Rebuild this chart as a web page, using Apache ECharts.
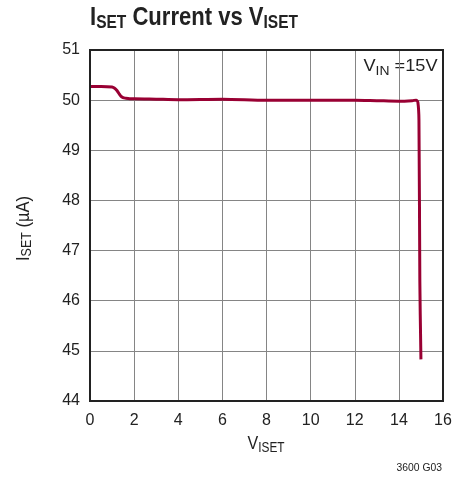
<!DOCTYPE html>
<html>
<head>
<meta charset="utf-8">
<script src="https://cdn.jsdelivr.net/npm/echarts@6/dist/echarts.min.js"></script>
<style>
html,body{margin:0;padding:0;background:#fff;}
#c{width:469px;height:483px;}
</style>
</head>
<body>
<div id="c"></div>
<script>
var xValues = [0, 0.5, 1.0, 1.1, 1.2, 1.3, 1.4, 1.5, 1.6, 1.8, 2, 3, 4, 6, 8, 10, 12, 13, 14, 14.6, 14.78, 14.86, 14.91, 14.95, 15.0];
var yValues = [50.27, 50.27, 50.26, 50.24, 50.2, 50.14, 50.08, 50.05, 50.04, 50.03, 50.03, 50.02, 50.01, 50.02, 50.0, 50.0, 50.0, 49.99, 49.98, 49.99, 50.0, 49.96, 49.6, 46.4, 44.83];
var xTicks = [0, 2, 4, 6, 8, 10, 12, 14, 16];
var yTicks = [44, 45, 46, 47, 48, 49, 50, 51];

var FN = '"Liberation Sans", Arial, sans-serif';
var TXT = '#222';
var chart = echarts.init(document.getElementById('c'));
var data = xValues.map(function (x, i) { return [x, yValues[i]]; });

var mctx = document.createElement('canvas').getContext('2d');
function measure(t, fs, bold) {
  mctx.font = (bold ? 'bold ' : '') + fs + 'px ' + FN;
  return mctx.measureText(t).width;
}
// Build a line of text fragments (with subscripts) fitted between a start and a target length.
function textLine(frags, x, y, length, rotation) {
  var widths = frags.map(function (f) { return measure(f.t, f.fs, f.bold); });
  var total = widths.reduce(function (a, b) { return a + b; }, 0);
  var cur = 0;
  var children = frags.map(function (f, i) {
    var el = {
      type: 'text', x: cur, y: (f.dy || 0) - 0.35 * f.fs,
      style: { text: f.t, fontFamily: FN, fontSize: f.fs, fontWeight: f.bold ? 'bold' : 'normal',
        fill: TXT, align: 'left', verticalAlign: 'middle' }
    };
    cur += widths[i];
    return el;
  });
  return { type: 'group', x: x, y: y, rotation: rotation || 0, scaleX: length / total, children: children, z: 20, silent: true };
}

chart.setOption({
  animation: false,
  grid: { left: 90, top: 50, width: 353, height: 351, containLabel: false },
  xAxis: {
    type: 'value', min: xTicks[0], max: xTicks[xTicks.length - 1], interval: 2,
    axisLine: { show: false },
    axisTick: { show: false },
    axisLabel: { color: TXT, fontSize: 16, fontFamily: FN, margin: 12 },
    splitLine: { show: true, lineStyle: { color: '#858585', width: 1 } }
  },
  yAxis: {
    type: 'value', min: yTicks[0], max: yTicks[yTicks.length - 1], interval: 1,
    axisLine: { show: false },
    axisTick: { show: false },
    axisLabel: { color: TXT, fontSize: 16, fontFamily: FN, margin: 10 },
    splitLine: { show: true, lineStyle: { color: '#858585', width: 1 } }
  },
  series: [{
    type: 'line',
    data: data,
    showSymbol: false,
    smooth: 0.3,
    lineStyle: { color: '#990033', width: 3 },
    z: 5
  }],
  graphic: [
    { type: 'rect', shape: { x: 90, y: 50, width: 353, height: 351 },
      style: { fill: 'none', stroke: '#222', lineWidth: 2 }, z: 10, silent: true },
    textLine([
      { t: 'I', fs: 25, bold: true },
      { t: 'SET', fs: 17.6, bold: true, dy: 3.3 },
      { t: ' Current vs V', fs: 25, bold: true },
      { t: 'ISET', fs: 17.6, bold: true, dy: 3.3 }
    ], 90, 26.5, 208),
    textLine([
      { t: 'I', fs: 18.5 },
      { t: 'SET', fs: 14, dy: 2.5 },
      { t: ' (µA)', fs: 18.5 }
    ], 30, 261, 65, Math.PI / 2),
    textLine([
      { t: 'V', fs: 19 },
      { t: 'ISET', fs: 14, dy: 2.3 }
    ], 247.5, 450.7, 37),
    textLine([
      { t: 'V', fs: 17 },
      { t: 'IN', fs: 13, dy: 3.7 },
      { t: ' =15V', fs: 17 }
    ], 363.5, 72.3, 74),
    textLine([
      { t: '3600 G03', fs: 11 }
    ], 396.5, 472, 45.5)
  ]
});
</script>
</body>
</html>
